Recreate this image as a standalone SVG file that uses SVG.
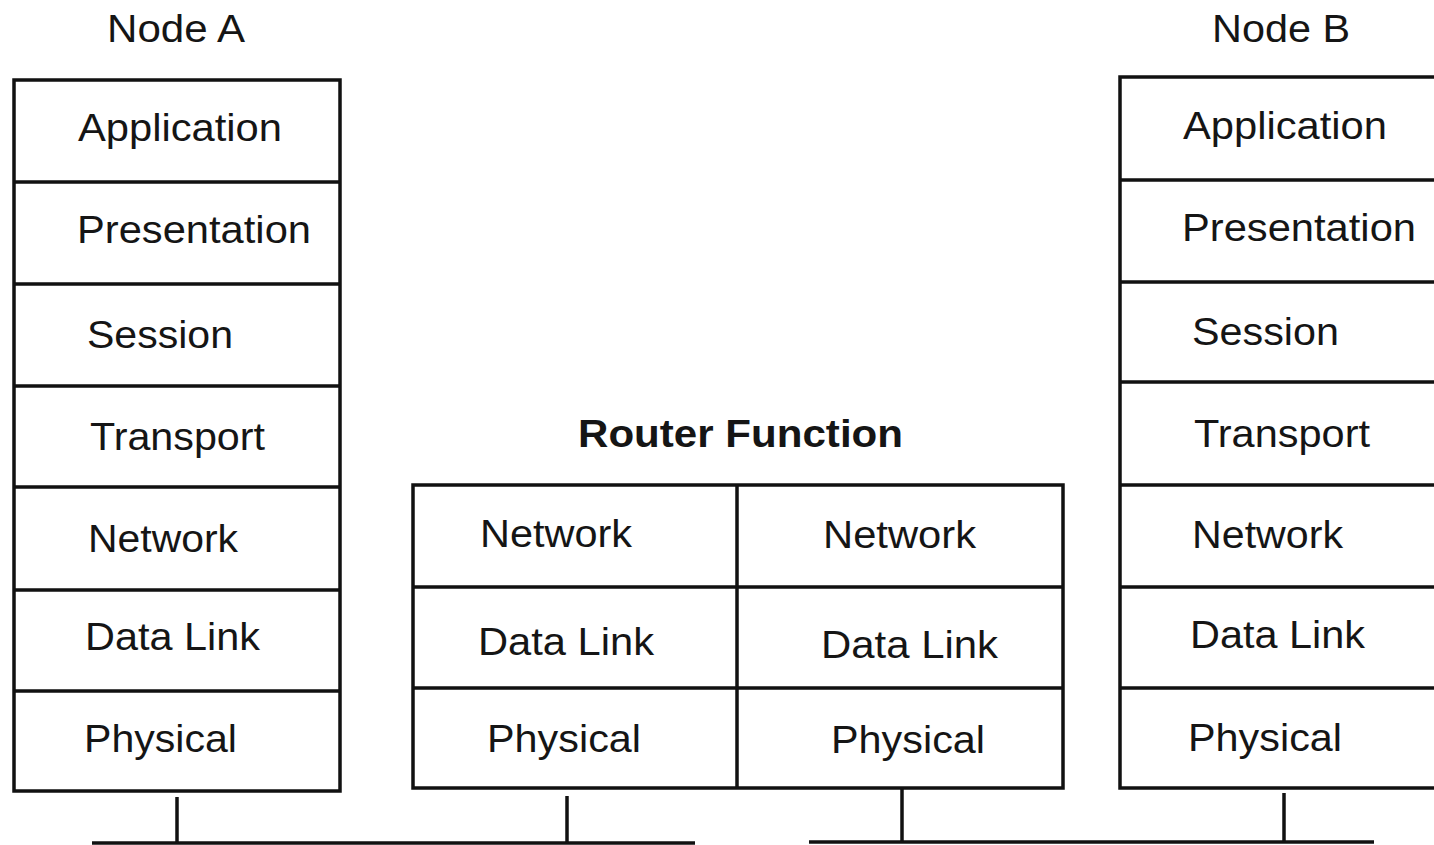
<svg xmlns="http://www.w3.org/2000/svg" width="1434" height="845" viewBox="0 0 1434 845">
<style>
  .box { fill: #fff; stroke: #111; stroke-width: 3.5; }
  .ln { stroke: #111; stroke-width: 3.5; fill: none; }
  .t { font-family: "Liberation Sans", Arial, sans-serif; font-size: 38px; fill: #151515; }
  .b { font-weight: bold; }
</style>
<rect width="1434" height="845" fill="#fff"/>

<g id="nodeA">
  <text class="t" x="107" y="42" textLength="138" lengthAdjust="spacingAndGlyphs">Node A</text>
  <rect class="box" x="14" y="80" width="326" height="711"/>
  <path class="ln" d="M14 182H340M14 284H340M14 386H340M14 487H340M14 590H340M14 691H340"/>
  <text class="t" x="78" y="141" textLength="204" lengthAdjust="spacingAndGlyphs">Application</text>
  <text class="t" x="77" y="243" textLength="234" lengthAdjust="spacingAndGlyphs">Presentation</text>
  <text class="t" x="87" y="348" textLength="146" lengthAdjust="spacingAndGlyphs">Session</text>
  <text class="t" x="90" y="450" textLength="175" lengthAdjust="spacingAndGlyphs">Transport</text>
  <text class="t" x="88" y="552" textLength="150" lengthAdjust="spacingAndGlyphs">Network</text>
  <text class="t" x="85" y="650" textLength="175" lengthAdjust="spacingAndGlyphs">Data Link</text>
  <text class="t" x="84" y="752" textLength="153" lengthAdjust="spacingAndGlyphs">Physical</text>
</g>

<g id="router">
  <text class="t b" x="578" y="447" textLength="325" lengthAdjust="spacingAndGlyphs">Router Function</text>
  <rect class="box" x="413" y="485" width="650" height="303"/>
  <path class="ln" d="M737 485V788M413 587H1063M413 688H1063"/>
  <text class="t" x="480" y="547" textLength="152" lengthAdjust="spacingAndGlyphs">Network</text>
  <text class="t" x="823" y="548" textLength="153" lengthAdjust="spacingAndGlyphs">Network</text>
  <text class="t" x="478" y="655" textLength="176" lengthAdjust="spacingAndGlyphs">Data Link</text>
  <text class="t" x="821" y="658" textLength="177" lengthAdjust="spacingAndGlyphs">Data Link</text>
  <text class="t" x="487" y="752" textLength="154" lengthAdjust="spacingAndGlyphs">Physical</text>
  <text class="t" x="831" y="753" textLength="154" lengthAdjust="spacingAndGlyphs">Physical</text>
</g>

<g id="nodeB">
  <text class="t" x="1212" y="42" textLength="138" lengthAdjust="spacingAndGlyphs">Node B</text>
  <rect class="box" x="1120" y="77" width="340" height="711"/>
  <path class="ln" d="M1120 180H1460M1120 282H1460M1120 382H1460M1120 485H1460M1120 587H1460M1120 688H1460"/>
  <text class="t" x="1183" y="139" textLength="204" lengthAdjust="spacingAndGlyphs">Application</text>
  <text class="t" x="1182" y="241" textLength="234" lengthAdjust="spacingAndGlyphs">Presentation</text>
  <text class="t" x="1192" y="345" textLength="147" lengthAdjust="spacingAndGlyphs">Session</text>
  <text class="t" x="1194" y="447" textLength="176" lengthAdjust="spacingAndGlyphs">Transport</text>
  <text class="t" x="1192" y="548" textLength="151" lengthAdjust="spacingAndGlyphs">Network</text>
  <text class="t" x="1190" y="648" textLength="175" lengthAdjust="spacingAndGlyphs">Data Link</text>
  <text class="t" x="1188" y="751" textLength="154" lengthAdjust="spacingAndGlyphs">Physical</text>
</g>

<g id="connectors">
  <path class="ln" d="M92 843H695"/>
  <path class="ln" d="M177 797V843"/>
  <path class="ln" d="M567 796V843"/>
  <path class="ln" d="M809 842H1374"/>
  <path class="ln" d="M902 789V842"/>
  <path class="ln" d="M1284 793V842"/>
</g>
</svg>
